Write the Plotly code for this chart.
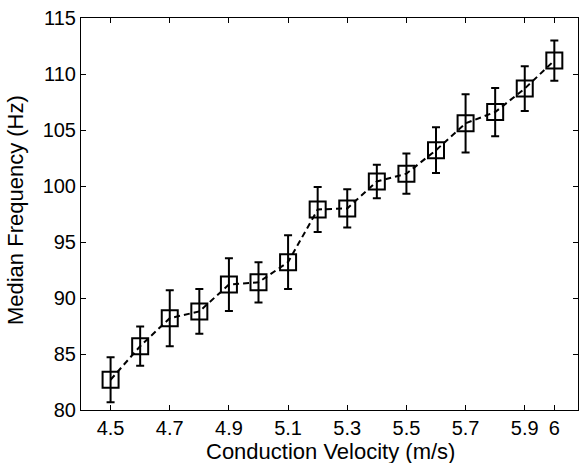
import plotly.graph_objects as go

velocity = [4.5, 4.6, 4.7, 4.8, 4.9, 5.0, 5.1, 5.2, 5.3, 5.4, 5.5, 5.6, 5.7, 5.8, 5.9, 6.0]
median_freq = [82.7, 85.7, 88.2, 88.8, 91.2, 91.4, 93.2, 97.9, 98.0, 100.4, 101.1, 103.2, 105.6, 106.6, 108.7, 111.2]
err = [2.0, 1.75, 2.5, 2.0, 2.35, 1.8, 2.4, 2.0, 1.7, 1.5, 1.8, 2.05, 2.6, 2.15, 2.0, 1.8]

x_ticks = [4.5, 4.7, 4.9, 5.1, 5.3, 5.5, 5.7, 5.9, 6.0]
x_tick_labels = ["4.5", "4.7", "4.9", "5.1", "5.3", "5.5", "5.7", "5.9", "6"]
y_ticks = [80, 85, 90, 95, 100, 105, 110, 115]

fig = go.Figure()
fig.add_trace(go.Scatter(
    x=velocity, y=median_freq,
    mode="lines+markers",
    line=dict(color="black", width=2, dash="6px,4px"),
    marker=dict(symbol="square-open", size=16, color="black", line=dict(width=2, color="black")),
    error_y=dict(type="data", array=err, visible=True, color="black", thickness=2, width=4),
    showlegend=False,
))

family = "Liberation Sans, Arial, sans-serif"
tick_font = dict(family=family, size=20, color="black")
title_font = dict(family=family, size=22, color="black")

fig.update_layout(
    width=579, height=463,
    margin=dict(l=81, r=1, t=18, b=53, autoexpand=False),
    paper_bgcolor="white", plot_bgcolor="white",
    font=tick_font,
    xaxis=dict(
        range=[4.4, 6.08], tickvals=x_ticks, ticktext=x_tick_labels, tickfont=tick_font,
        ticks="inside", ticklen=5, tickcolor="black", showline=True, linecolor="black",
        linewidth=1, mirror="ticks", showgrid=False, zeroline=False, automargin=False,
        ticklabeloverflow="allow",
    ),
    yaxis=dict(
        range=[80, 115], tickvals=y_ticks, tickfont=tick_font,
        ticks="inside", ticklen=5, tickcolor="black", showline=True, linecolor="black",
        linewidth=1, mirror="ticks", showgrid=False, zeroline=False, automargin=False,
        ticklabeloverflow="allow",
    ),
    annotations=[
        dict(text="Conduction Velocity (m/s)", xref="paper", yref="paper",
             x=0.503, y=-0.107, xanchor="center", yanchor="middle", showarrow=False, font=title_font),
        dict(text="Median Frequency (Hz)", xref="paper", yref="paper", textangle=-90,
             x=-0.1328, y=0.510, xanchor="center", yanchor="middle", showarrow=False, font=title_font),
    ],
)
fig.write_html("out.html", config={"displayModeBar": False},
               post_script="document.body.style.margin='0';")
